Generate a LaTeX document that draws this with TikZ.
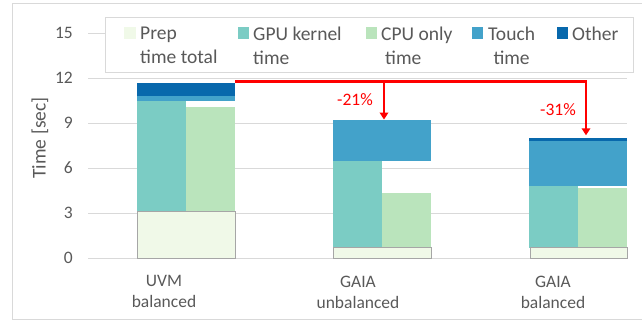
\documentclass[tikz,border=0pt]{standalone}
\usepackage{fontspec}
\setmainfont{Carlito}
\usetikzlibrary{arrows.meta}

\definecolor{inkgray}{HTML}{595959}
\definecolor{gridgray}{HTML}{D9D9D9}
\definecolor{prepfill}{HTML}{F0F9E8}
\definecolor{cpufill}{HTML}{BAE4BC}
\definecolor{gpufill}{HTML}{7BCCC4}
\definecolor{touchfill}{HTML}{43A2CA}
\definecolor{otherfill}{HTML}{0868AC}

\begin{document}
\begin{tikzpicture}[
  x=1pt, y=-1pt,
  font=\fontsize{17.5}{21}\selectfont, text=inkgray,
  frame/.style={draw=gridgray, line width=1pt},
  gridline/.style={draw=gridgray, line width=1pt},
  prepbar/.style={fill=prepfill, draw=black!35, line width=1pt},
  gpubar/.style={fill=gpufill},
  cpubar/.style={fill=cpufill},
  touchbar/.style={fill=touchfill},
  otherbar/.style={fill=otherfill},
  swatch/.style={minimum size=11.5pt, inner sep=0pt, anchor=center},
  legtext/.style={anchor=north west, inner sep=0pt, align=left,
    font=\fontsize{19.5}{23.4}\selectfont},
  ticklab/.style={anchor=east, inner sep=0pt},
  catlab/.style={anchor=north, inner sep=0pt, align=center},
  gainlab/.style={text=red, inner sep=0pt},
  gainarrow/.style={draw=red, line width=2.8pt, -{Triangle[length=7pt,width=8.5pt]}}
]
  \useasboundingbox (0,0) rectangle (642,322);
  \draw[frame] (660,3) -- (12,3) -- (12,319) -- (660,319);

  \node[rotate=90, font=\fontsize{19.5}{23.4}\selectfont] (ytitle) at (40,138) {Time [sec]};

  \begin{scope}[shift={(0,258)}, y=15pt]
    \foreach \v in {0,3,...,15} {
      \draw[gridline] (88,\v) -- (627,\v);
      \node[ticklab] (tick\v) at (73,\v) {\v};
    }

    % UVM balanced
    \fill[gpubar]   (137,3.13) rectangle (186,10.47);
    \fill[cpubar]   (186,3.13) rectangle (235,10.07);
    \fill[touchbar] (137,10.47) rectangle (235,10.8);
    \fill[otherbar] (137,10.8) rectangle (235,11.67);
    \draw[prepbar]  (137,0) rectangle (235,3.13);

    % GAIA unbalanced
    \fill[gpubar]   (333,0.67) rectangle (382,6.47);
    \fill[cpubar]   (382,0.67) rectangle (431,4.35);
    \fill[touchbar] (333,6.47) rectangle (431,9.2);
    \draw[prepbar]  (333.5,0) rectangle (431,0.67);

    % GAIA balanced
    \fill[gpubar]   (529,0.67) rectangle (578,4.8);
    \fill[cpubar]   (578,0.67) rectangle (627,4.67);
    \fill[touchbar] (529,4.8) rectangle (627,7.82);
    \fill[otherbar] (529,7.82) rectangle (627,8.02);
    \draw[prepbar]  (530,0) rectangle (627,0.67);

    \coordinate (uvmtop) at (235,11.78);
    \coordinate (unbtop) at (384,9.23);
    \coordinate (baltop) at (586,8.18);
  \end{scope}

  \draw[gainarrow] (uvmtop) -| (baltop);
  \draw[gainarrow] (uvmtop -| unbtop) -- (unbtop);
  \node[gainlab] (gainunb) at (355,100) {-21\%};
  \node[gainlab] (gainbal) at (558,110) {-31\%};

  \node[catlab] (catuvm) at (164,275.5) {UVM\\balanced};
  \node[catlab] (catunb) at (358,275.5) {GAIA\\unbalanced};
  \node[catlab] (catbal) at (553,275.5) {GAIA\\balanced};

  % legend
  \draw[frame, fill=white] (105,17) rectangle (633,72);
  \node[swatch, fill=prepfill]  (swprep)  at (129.75,33) {};
  \node[swatch, fill=gpufill]   (swgpu)   at (243.5,33) {};
  \node[swatch, fill=cpufill]   (swcpu)   at (371.5,33) {};
  \node[swatch, fill=touchfill] (swtouch) at (477.5,33) {};
  \node[swatch, fill=otherfill] (swother) at (562.5,33) {};
  \node[legtext] (ltprep)  at (140,27) {Prep\\time total};
  \node[legtext] (ltgpu)   at (253,27) {GPU kernel\\time};
  \node[legtext] (ltcpu)   at (381,27) {CPU only\\\hspace{4pt}time};
  \node[legtext, align=center] (lttouch) at (488,27) {Touch\\time};
  \node[legtext] (ltother) at (572,27) {Other};
\end{tikzpicture}
\end{document}
